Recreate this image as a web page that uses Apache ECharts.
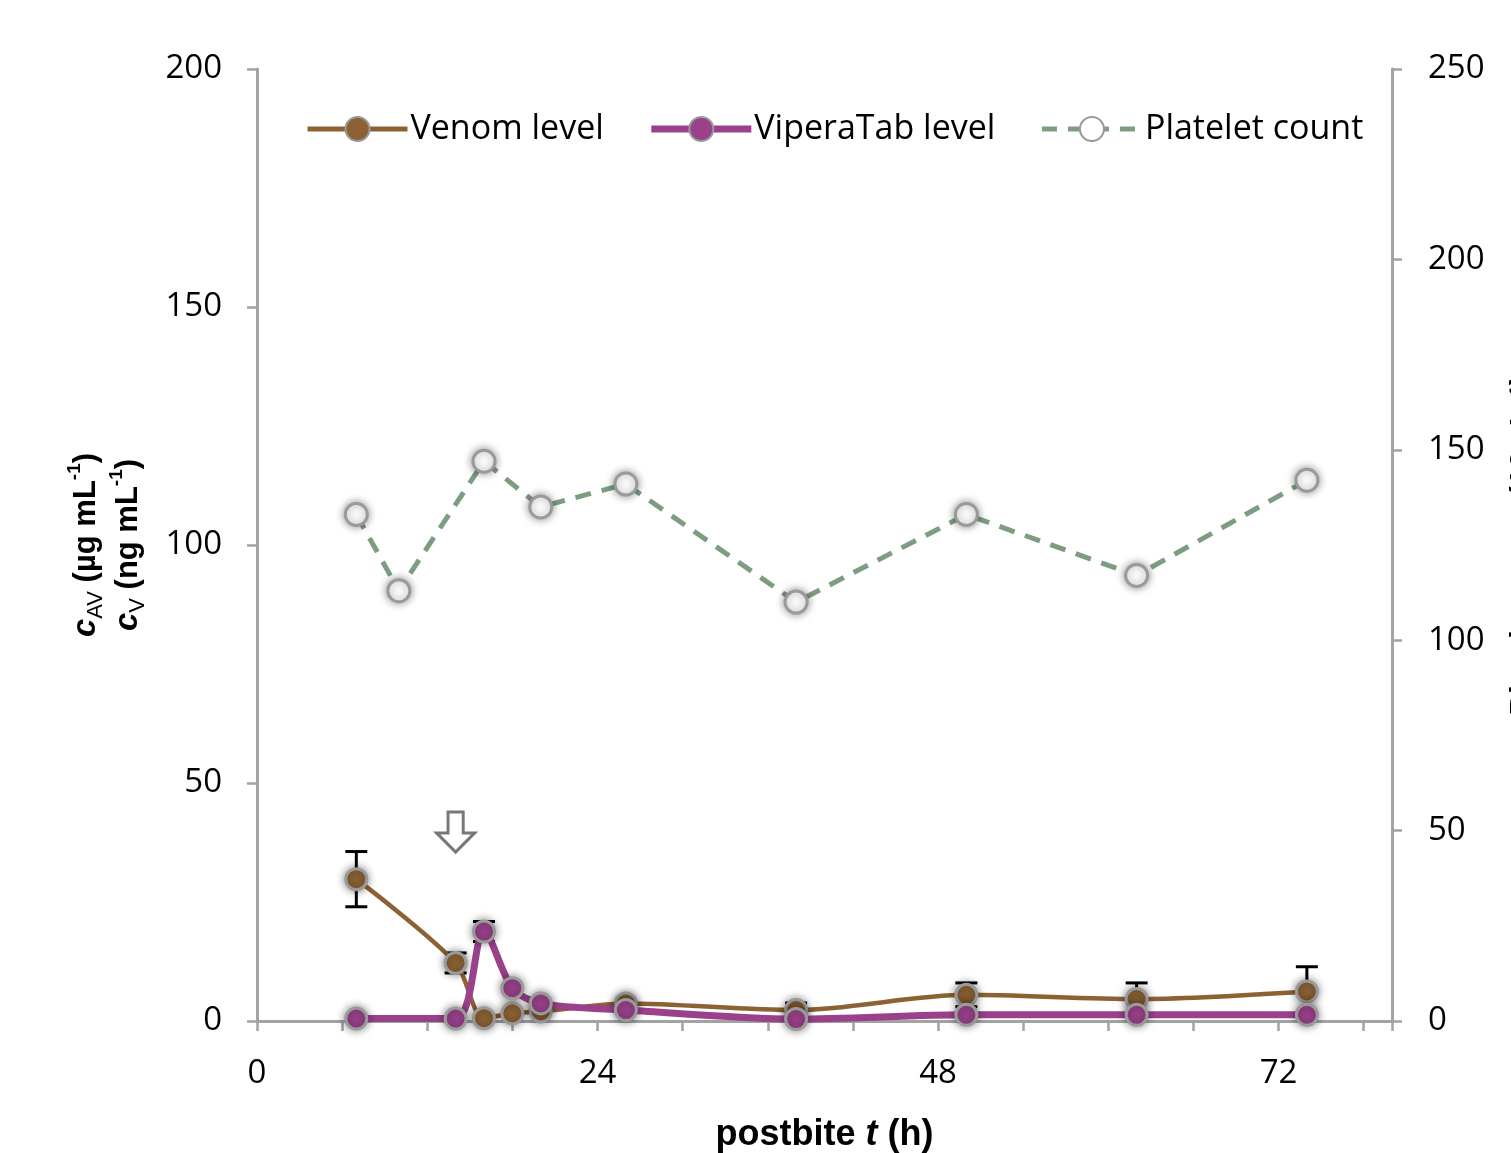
<!DOCTYPE html>
<html>
<head>
<meta charset="utf-8">
<script src="https://cdn.jsdelivr.net/npm/echarts@6/dist/echarts.min.js"></script>
<style>
html,body{margin:0;padding:0;background:#fff;}
#chart{width:1511px;height:1153px;}
</style>
</head>
<body>
<div id="chart"></div>
<script>
// ---- data ----
const venomTimes = [7, 14, 16, 18, 20, 26, 38, 50, 62, 74];
const venomValues = [29.8, 12.2, 0.6, 1.6, 2.0, 3.7, 2.3, 5.5, 4.6, 6.2];
const venomErrors = [5.8, 2.1, 0, 0, 0, 0, 1.5, 2.5, 3.4, 5.2];
const viperaTimes = [7, 14, 16, 18, 20, 26, 38, 50, 62, 74];
const viperaValues = [0.5, 0.5, 18.8, 6.9, 3.7, 2.3, 0.4, 1.3, 1.3, 1.3];
const viperaErrors = [0, 0, 2.1, 0, 0, 0, 0, 0, 0, 0];
const plateletTimes = [7, 10, 16, 20, 26, 38, 50, 62, 74];
const plateletValues = [133, 113, 147, 135, 141, 110, 133, 117, 142];
const antivenomDoseTime = [14];
const antivenomDoseMarkerLevel = [39.7];
const xTickLabels = [0, 24, 48, 72];

const BROWN = '#8c6234';
const PURPLE = '#9b418c';
const GREEN = '#7e9d80';
const AXIS = '#a3a3a3';
const FONT = '"Open Sans", sans-serif';

const venomData = venomTimes.map((t, i) => [t, venomValues[i]]);
const viperaData = viperaTimes.map((t, i) => [t, viperaValues[i]]);
const plateletData = plateletTimes.map((t, i) => [t, plateletValues[i]]);
const errData = [];
venomTimes.forEach((t, i) => { if (venomErrors[i] > 0) errData.push([t, venomValues[i] - venomErrors[i], venomValues[i] + venomErrors[i]]); });
viperaTimes.forEach((t, i) => { if (viperaErrors[i] > 0) errData.push([t, viperaValues[i] - viperaErrors[i], viperaValues[i] + viperaErrors[i]]); });

const chart = echarts.init(document.getElementById('chart'));

const markerStyle = (c) => ({
  color: c, borderColor: '#9a9a9a', borderWidth: 3,
  shadowBlur: 8, shadowColor: 'rgba(0,0,0,0.45)'
});

chart.setOption({
  animation: false,
  backgroundColor: '#fff',
  grid: { left: 257, right: 119, top: 69, bottom: 132, containLabel: false, outerBoundsMode: 'none' },
  legend: {
    top: 107, left: 300,
    itemWidth: 100, itemHeight: 30, itemGap: 44,
    textStyle: { fontFamily: FONT, fontSize: 34, color: '#000', padding: [0, 0, 0, -2] },
    data: [
      { name: 'Venom level', lineStyle: { width: 5, color: BROWN } },
      { name: 'ViperaTab level', lineStyle: { width: 7, color: PURPLE } },
      { name: 'Platelet count', lineStyle: { width: 5, color: GREEN, type: [15, 11] } }
    ]
  },
  xAxis: {
    type: 'value', min: 0, max: 80, interval: 6,
    name: '{b|postbite }{bi|t}{b| (h)}',
    nameLocation: 'middle', nameGap: 96,
    nameTextStyle: {
      rich: {
        b: { fontFamily: 'Liberation Sans', fontWeight: 'bold', fontSize: 36, color: '#000' },
        bi: { fontFamily: 'Liberation Sans', fontWeight: 'bold', fontStyle: 'italic', fontSize: 36, color: '#000' }
      }
    },
    axisLine: { lineStyle: { color: AXIS, width: 3 } },
    axisTick: { show: true, length: 10, lineStyle: { color: AXIS, width: 2.5 } },
    axisLabel: {
      margin: 36, fontFamily: FONT, fontSize: 33, color: '#000',
      formatter: v => xTickLabels.includes(v) ? String(v) : ''
    },
    splitLine: { show: false }
  },
  yAxis: [
    {
      type: 'value', min: 0, max: 200, interval: 50, position: 'left',
      name: '{c|c}{s|AV}{b| (µg mL}{p|-1}{b|)}\n{c|c}{s|V}{b| (ng mL}{p|-1}{b|)}',
      nameLocation: 'middle', nameRotate: 90, nameGap: 108,
      nameTextStyle: {
        align: 'center',
        rich: {
          c: { fontFamily: 'Liberation Sans', fontWeight: 'bold', fontStyle: 'italic', fontSize: 33, color: '#000', lineHeight: 42 },
          b: { fontFamily: 'Liberation Sans', fontWeight: 'bold', fontSize: 31, color: '#000', lineHeight: 42 },
          s: { fontFamily: 'Liberation Sans', fontSize: 22, color: '#000', lineHeight: 42, verticalAlign: 'bottom', padding: [12, 0, 0, 0] },
          p: { fontFamily: 'Liberation Sans', fontWeight: 'bold', fontSize: 19, color: '#000', lineHeight: 42, verticalAlign: 'top', padding: [0, 0, 14, 0] }
        }
      },
      axisLine: { show: true, lineStyle: { color: AXIS, width: 3 } },
      axisTick: { show: true, length: 10, lineStyle: { color: AXIS, width: 2.5 } },
      axisLabel: { margin: 35, fontFamily: FONT, fontSize: 33, color: '#000' },
      splitLine: { show: false }
    },
    {
      type: 'value', min: 0, max: 250, interval: 50, position: 'right',
      name: 'Platelet count (10⁹ L⁻¹)',
      nameLocation: 'middle', nameRotate: 90, nameGap: 115,
      nameTextStyle: { fontFamily: 'Liberation Sans', fontWeight: 'bold', fontSize: 32, color: '#000' },
      axisLine: { show: true, lineStyle: { color: AXIS, width: 3 } },
      axisTick: { show: true, length: 10, lineStyle: { color: AXIS, width: 2.5 } },
      axisLabel: { margin: 36, fontFamily: FONT, fontSize: 33, color: '#000' },
      splitLine: { show: false }
    }
  ],
  series: [
    {
      name: 'Error bars', type: 'custom', yAxisIndex: 0, z: 1,
      data: errData,
      renderItem: (params, api) => {
        const x = api.value(0);
        const lo = api.coord([x, api.value(1)]);
        const hi = api.coord([x, api.value(2)]);
        const w = 11;
        const st = { stroke: '#000', lineWidth: 3 };
        return {
          type: 'group',
          children: [
            { type: 'line', shape: { x1: lo[0], y1: lo[1], x2: hi[0], y2: hi[1] }, style: st },
            { type: 'line', shape: { x1: hi[0] - w, y1: hi[1], x2: hi[0] + w, y2: hi[1] }, style: st },
            { type: 'line', shape: { x1: lo[0] - w, y1: lo[1], x2: lo[0] + w, y2: lo[1] }, style: st }
          ]
        };
      }
    },
    {
      name: 'Platelet count', type: 'line', yAxisIndex: 1, z: 2,
      data: plateletData,
      symbol: 'circle', symbolSize: 22,
      itemStyle: { color: '#fff', borderColor: '#9a9a9a', borderWidth: 3, shadowBlur: 8, shadowColor: 'rgba(0,0,0,0.4)' },
      lineStyle: { color: GREEN, width: 5, type: [16, 11] }
    },
    {
      name: 'Venom level', type: 'line', yAxisIndex: 0, z: 3,
      data: venomData, smooth: 0.3,
      symbol: 'circle', symbolSize: 21,
      itemStyle: markerStyle(BROWN),
      lineStyle: { color: BROWN, width: 4.5 },
      markPoint: {
        silent: true,
        symbol: 'path://M6,0 L14,0 L14,11 L20,11 L10,21 L0,11 L6,11 Z',
        symbolSize: [38, 40],
        itemStyle: { color: '#fff', borderColor: '#777', borderWidth: 3, shadowBlur: 0 },
        label: { show: false },
        data: antivenomDoseTime.map((t, i) => ({ coord: [t, antivenomDoseMarkerLevel[i]] }))
      }
    },
    {
      name: 'ViperaTab level', type: 'line', yAxisIndex: 0, z: 4,
      data: viperaData, smooth: 0.3,
      symbol: 'circle', symbolSize: 21,
      itemStyle: markerStyle(PURPLE),
      lineStyle: { color: PURPLE, width: 7 }
    }
  ]
});
</script>
</body>
</html>
